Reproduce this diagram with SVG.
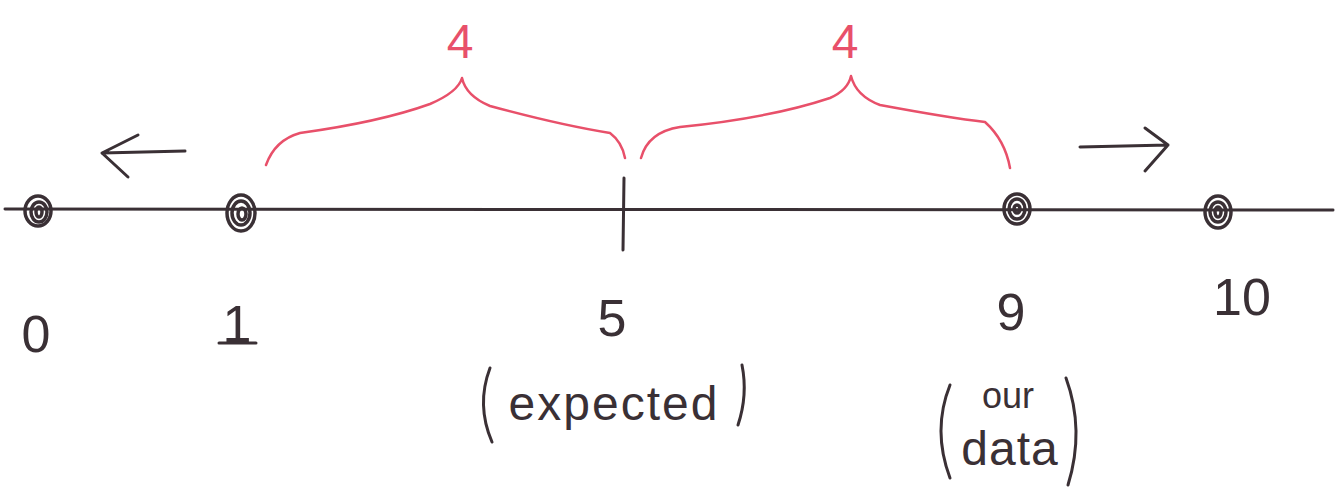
<svg xmlns="http://www.w3.org/2000/svg" width="1335" height="491" viewBox="0 0 1335 491">
<style>
.ink{fill:none;stroke:#3a3035;stroke-width:3;stroke-linecap:round;stroke-linejoin:round}
.red{fill:none;stroke:#e8506a;stroke-width:2.5;stroke-linecap:round;stroke-linejoin:round}
.dot{fill:none;stroke:#3a3035;stroke-width:3.5}
.lbl{font-family:"Liberation Sans",Arial,sans-serif;fill:#3a3035;font-size:52px;text-anchor:middle}
.rl{font-family:"Liberation Sans",Arial,sans-serif;fill:#e8506a;font-size:48px;text-anchor:middle}
.txt{font-family:"Liberation Sans",Arial,sans-serif;fill:#3a3035;font-size:48px;text-anchor:middle;letter-spacing:2px}
.sm{font-family:"Liberation Sans",Arial,sans-serif;fill:#3a3035;font-size:36px;text-anchor:middle}
</style>
<rect width="1335" height="491" fill="#ffffff"/>
<g id="connectors">
<path class="ink" d="M5 209 Q600 212 1333 210"/>
<path id="tick5" class="ink" d="M624 178 L623 250"/>
<path id="arrow-left" class="ink" d="M185 151 L102 153 M102 153 L138 135 M102 153 L128 177"/>
<path id="arrow-right" class="ink" d="M1080 147 L1168 145 M1168 145 L1145 128 M1168 145 L1145 171"/>
<path id="brace-left" class="red" d="M266 165 Q275 140 300 133 Q380 122 430 104 Q458 92 462 78 Q466 96 490 106 Q560 125 610 133 Q622 142 625 158"/>
<path id="brace-right" class="red" d="M641 158 Q648 132 680 127 Q770 118 830 98 Q848 90 851 76 Q856 96 880 105 Q950 118 985 122 Q1005 140 1010 168"/>
</g>
<g id="node-0">
<ellipse class="dot" cx="38" cy="211" rx="13" ry="15"/>
<ellipse class="dot" cx="39" cy="212" rx="8" ry="10"/>
<ellipse class="dot" cx="39" cy="212" rx="3" ry="5"/>
<text class="lbl" x="36" y="352">0</text>
</g>
<g id="node-1">
<ellipse class="dot" cx="241" cy="213" rx="14" ry="18" fill="#3a3035" fill-opacity="0.45"/>
<ellipse class="dot" cx="241" cy="213" rx="9" ry="12"/>
<ellipse class="dot" cx="242" cy="214" rx="4" ry="6"/>
<text class="lbl" x="237" y="342">1</text>
<path class="ink" d="M219 343 L256 343"/>
</g>
<g id="node-5">
<text class="lbl" x="612" y="336">5</text>
<path class="ink" d="M490 368 Q476 405 492 442"/>
<path class="ink" d="M742 365 Q748 395 738 425"/>
<text class="txt" x="614" y="420">expected</text>
</g>
<g id="node-9">
<ellipse class="dot" cx="1017" cy="209" rx="13" ry="15" fill="#3a3035" fill-opacity="0.4"/>
<ellipse class="dot" cx="1017" cy="209" rx="8" ry="10"/>
<ellipse class="dot" cx="1017" cy="209" rx="3" ry="4"/>
<text class="lbl" x="1011" y="330">9</text>
<path class="ink" d="M950 385 Q932 430 950 478"/>
<path class="ink" d="M1066 378 Q1085 430 1068 485"/>
<text class="sm" x="1008" y="408">our</text>
<text class="txt" x="1010" y="465" style="letter-spacing:1px">data</text>
</g>
<g id="node-10">
<ellipse class="dot" cx="1218" cy="212" rx="13" ry="16"/>
<ellipse class="dot" cx="1218" cy="212" rx="8" ry="10"/>
<ellipse class="dot" cx="1218" cy="212" rx="3" ry="5"/>
<text class="lbl" x="1242" y="315">10</text>
</g>
<g id="distances">
<text class="rl" x="460" y="58">4</text>
<text class="rl" x="845" y="58">4</text>
</g>
</svg>
